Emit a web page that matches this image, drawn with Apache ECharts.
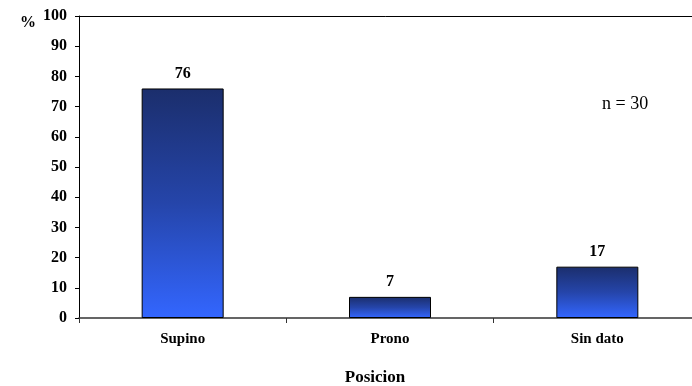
<!DOCTYPE html>
<html>
<head>
<meta charset="utf-8">
<script src="https://cdn.jsdelivr.net/npm/echarts@6/dist/echarts.min.js"></script>
<style>
  html, body { margin: 0; padding: 0; background: #fff; }
  #chart { width: 692px; height: 386px; }
</style>
</head>
<body>
<div id="chart"></div>
<script>
// Distribution of position (percent of cases)
const categories = ['Supino', 'Prono', 'Sin dato'];
const percentValues = [76, 7, 17];
const yTicks = { min: 0, max: 100, interval: 10 };

const FONT = '"Liberation Serif", "Times New Roman", serif';

const chart = echarts.init(document.getElementById('chart'));

const barGradient = new echarts.graphic.LinearGradient(0, 0, 0, 1, [
  { offset: 0, color: '#1b2e6c' },
  { offset: 0.5, color: '#2545aa' },
  { offset: 1, color: '#3366ff' }
]);

chart.setOption({
  animation: false,
  backgroundColor: '#ffffff',
  // the plot area runs a little past the right edge of the canvas
  grid: {
    left: 79, top: 16, width: 622, height: 302,
    containLabel: false, outerBoundsMode: 'none'
  },
  title: [
    {
      text: 'Posicion', left: 370, top: 364, textAlign: 'center',
      textStyle: { fontFamily: FONT, fontWeight: 'bold', fontSize: 17, color: '#000' }
    },
    {
      text: 'n = 30', left: 597, top: 90,
      textStyle: { fontFamily: FONT, fontWeight: 'normal', fontSize: 18, color: '#000' }
    },
    {
      text: '%', left: 15, top: 10,
      textStyle: { fontFamily: FONT, fontWeight: 'bold', fontSize: 16, color: '#000' }
    }
  ],
  xAxis: [
    {
      type: 'category',
      data: categories,
      position: 'bottom',
      axisLine: { lineStyle: { color: '#333', width: 1.5 } },
      axisTick: { show: true, length: 5, lineStyle: { color: '#333' } },
      axisLabel: {
        fontFamily: FONT, fontWeight: 'bold', fontSize: 15, color: '#000', margin: 14
      }
    },
    {
      // top border line of the plot area
      type: 'category',
      data: categories,
      position: 'top',
      axisLine: { show: true, lineStyle: { color: '#000', width: 1 } },
      axisTick: { show: false },
      axisLabel: { show: false }
    }
  ],
  yAxis: {
    type: 'value',
    min: yTicks.min,
    max: yTicks.max,
    interval: yTicks.interval,
    axisLine: { show: true, lineStyle: { color: '#000', width: 1 } },
    axisTick: { show: true, length: 4, lineStyle: { color: '#000' } },
    splitLine: { show: false },
    axisLabel: {
      fontFamily: FONT, fontWeight: 'bold', fontSize: 16, color: '#000', margin: 12
    }
  },
  series: [
    {
      type: 'bar',
      data: percentValues,
      xAxisIndex: 0,
      barWidth: 82,
      itemStyle: { color: barGradient, borderColor: '#000', borderWidth: 1 },
      label: {
        show: true, position: 'top', distance: 7,
        fontFamily: FONT, fontWeight: 'bold', fontSize: 16, color: '#000'
      }
    }
  ]
});
</script>
</body>
</html>
